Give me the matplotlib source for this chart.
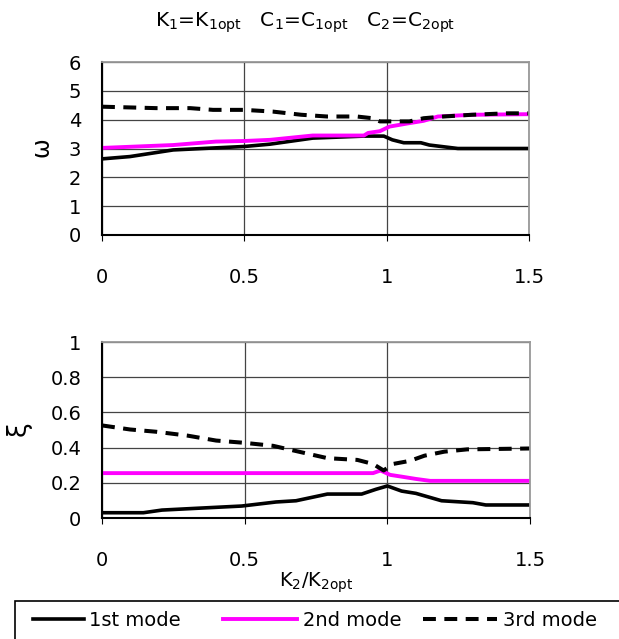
import matplotlib.pyplot as plt
from matplotlib.patches import Rectangle

plt.rcParams['font.family'] = ['DejaVu Sans']
plt.rcParams['mathtext.default'] = 'regular'

# omega (upper panel)
w1_x = [0, 0.098, 0.25, 0.50, 0.59, 0.74, 0.92, 0.99, 1.02, 1.06, 1.12, 1.15, 1.25, 1.5]
w1_y = [2.64, 2.72, 2.95, 3.07, 3.15, 3.36, 3.43, 3.43, 3.30, 3.20, 3.20, 3.12, 3.00, 3.00]

w2_x = [0, 0.25, 0.40, 0.50, 0.59, 0.74, 0.92, 0.935, 0.976, 1.01, 1.08, 1.13, 1.18, 1.30, 1.5]
w2_y = [3.02, 3.12, 3.24, 3.26, 3.30, 3.45, 3.45, 3.54, 3.60, 3.76, 3.88, 3.96, 4.11, 4.17, 4.19]

w3_x = [0, 0.19, 0.31, 0.39, 0.50, 0.60, 0.70, 0.79, 0.895, 0.95, 0.976, 1.08, 1.13, 1.20, 1.30, 1.42, 1.5]
w3_y = [4.45, 4.40, 4.40, 4.34, 4.34, 4.28, 4.17, 4.11, 4.11, 4.05, 3.94, 3.94, 4.05, 4.11, 4.17, 4.22, 4.22]

# xi (lower panel)
z1_x = [0, 0.145, 0.21, 0.33, 0.49, 0.61, 0.68, 0.79, 0.91, 0.96, 1.0, 1.05, 1.10, 1.19, 1.30, 1.345, 1.5]
z1_y = [0.03, 0.03, 0.045, 0.055, 0.068, 0.091, 0.098, 0.136, 0.136, 0.163, 0.182, 0.153, 0.14, 0.098, 0.087, 0.074, 0.074]

z2_x = [0, 0.95, 0.976, 1.01, 1.05, 1.10, 1.15, 1.5]
z2_y = [0.255, 0.255, 0.27, 0.245, 0.235, 0.222, 0.211, 0.211]

z3_x = [0, 0.098, 0.19, 0.30, 0.40, 0.50, 0.60, 0.70, 0.79, 0.895, 0.95, 0.987, 1.02, 1.08, 1.13, 1.20, 1.28, 1.5]
z3_y = [0.526, 0.503, 0.49, 0.468, 0.44, 0.427, 0.41, 0.373, 0.34, 0.33, 0.307, 0.27, 0.307, 0.325, 0.354, 0.377, 0.39, 0.395]

labels = ['1st mode', '2nd mode', '3rd mode']

fig = plt.figure(figsize=(6.19, 6.39), dpi=100)
ax1 = fig.add_axes([102/619, 1-235/639, 427/619, 173/639])
ax2 = fig.add_axes([102/619, 1-518/639, 428/619, 176/639])

def estilo(ax, ymax, ystep):
    ax.set_xlim(0, 1.5)
    ax.set_ylim(0, ymax)
    ax.set_xticks([0, 0.5, 1, 1.5])
    ax.set_xticklabels(['0', '0.5', '1', '1.5'])
    yt = [i*ystep for i in range(int(round(ymax/ystep))+1)]
    ax.set_yticks(yt)
    ax.grid(True, color='#444444', lw=0.9)
    ax.set_axisbelow(True)
    for s in ['top', 'right']:
        ax.spines[s].set_color('#999999')
        ax.spines[s].set_linewidth(1.3)
    for s in ['left', 'bottom']:
        ax.spines[s].set_color('black')
        ax.spines[s].set_linewidth(1.5)
    ax.tick_params(axis='x', length=4, direction='out', pad=20, labelsize=14)
    ax.tick_params(axis='y', length=0, pad=15, labelsize=14)

l1, = ax1.plot(w1_x, w1_y, color='black', lw=2.6)
l2, = ax1.plot(w2_x, w2_y, color='#ff00ff', lw=2.8)
l3, = ax1.plot(w3_x, w3_y, color='black', lw=2.9, dashes=(3.2, 2.1))
estilo(ax1, 6, 1)
ax1.set_yticklabels([str(v) for v in range(7)])
ax1.set_ylabel('$\\omega$', fontsize=17, rotation=90, labelpad=10)

ax2.plot(z1_x, z1_y, color='black', lw=2.6)
ax2.plot(z2_x, z2_y, color='#ff00ff', lw=2.8)
ax2.plot(z3_x, z3_y, color='black', lw=2.9, dashes=(3.2, 2.1))
estilo(ax2, 1, 0.2)
ax2.set_yticklabels(['0', '0.2', '0.4', '0.6', '0.8', '1'])
ax2.set_ylabel('$\\xi$', fontsize=19, rotation=90, labelpad=11)
ax2.set_xlabel('K$_2$/K$_{2opt}$', fontsize=14, labelpad=0)

fig.text(305/619, 1-23/639, 'K$_1$=K$_{1opt}$   C$_1$=C$_{1opt}$   C$_2$=C$_{2opt}$',
         ha='center', va='center', fontsize=14.5)

# caixa da legenda (sai pela borda da figura)
fig.patches.append(Rectangle((15/619, -0.05), 1.0, 0.05 + 38/639, transform=fig.transFigure,
                             fill=False, edgecolor='black', lw=1.2))
# uma legenda por entrada, cada uma com seu comprimento de traço
for h, lab, x0, hl in zip([l1, l2, l3], labels, [33, 223, 423], [2.6, 3.8, 3.8]):
    fig.legend([h], [lab], loc='center left', bbox_to_anchor=(x0/619, 1-620/639),
               frameon=False, fontsize=14, handlelength=hl, handletextpad=0.3,
               borderaxespad=0, borderpad=0)

fig.savefig('out.png', dpi=100)
